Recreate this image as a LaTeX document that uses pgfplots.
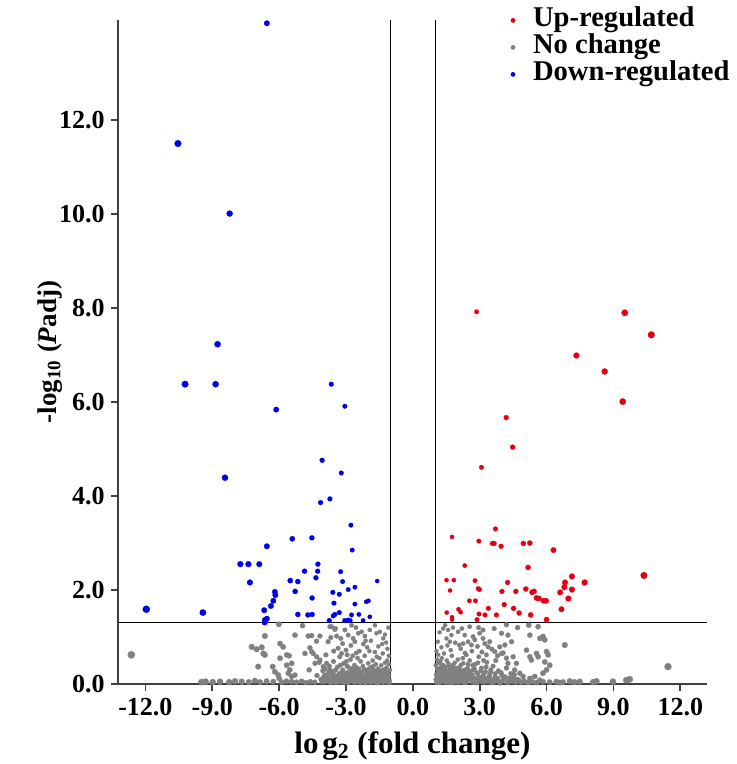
\documentclass[border=0pt]{standalone}
\usepackage{fontspec}
\setmainfont{Liberation Serif}
\usepackage{pgfplots}
\pgfplotsset{compat=1.18}
\definecolor{upred}{RGB}{228,0,18}
\definecolor{ncgray}{RGB}{128,128,128}
\definecolor{dnblue}{RGB}{0,0,230}

\pgfplotstableread{
x y
2.86 7.92
9.51 7.90
10.70 7.43
7.34 6.99
8.61 6.65
9.42 6.01
4.19 5.67
4.48 5.04
3.08 4.61
3.71 3.30
1.76 3.13
2.96 3.04
3.57 2.99
3.65 2.99
3.96 2.93
4.96 2.99
5.25 3.00
6.31 2.85
2.33 2.52
5.17 2.48
1.51 2.21
1.84 2.21
2.79 2.20
4.25 2.16
6.83 2.16
7.14 2.29
7.71 2.16
10.37 2.31
1.67 1.99
2.93 2.03
2.99 2.01
4.00 1.97
4.62 1.97
5.07 2.02
5.35 1.95
5.44 1.97
6.61 1.95
6.80 2.06
7.14 2.01
6.98 1.82
5.55 1.83
5.66 1.82
5.87 1.77
5.98 1.77
2.54 1.77
2.81 1.77
4.10 1.69
2.05 1.59
2.14 1.53
1.52 1.52
3.39 1.61
2.97 1.49
3.24 1.47
3.75 1.47
4.52 1.61
4.77 1.51
5.29 1.47
6.67 1.59
1.76 1.42
1.76 1.37
2.88 1.37
6.00 1.37
}\upreg

\pgfplotstableread{
x y
-6.55 14.06
-10.54 11.50
-8.22 10.01
-8.76 7.23
-10.22 6.38
-8.85 6.38
-3.66 6.38
-6.13 5.84
-3.05 5.91
-8.43 4.39
-4.07 4.76
-3.21 4.49
-3.72 3.94
-4.14 3.86
-2.78 3.38
-2.72 2.85
-6.55 2.93
-5.41 3.09
-4.53 3.11
-7.74 2.55
-7.38 2.55
-6.89 2.55
-7.31 2.16
-4.26 2.55
-4.27 2.40
-4.86 2.40
-4.35 2.26
-5.50 2.20
-5.16 2.18
-3.24 2.39
-3.15 2.18
-1.60 2.19
-2.60 2.06
-2.90 2.01
-3.59 1.95
-3.30 1.91
-6.19 1.96
-6.17 1.89
-5.28 1.97
-4.52 1.83
-6.26 1.77
-6.37 1.66
-6.67 1.57
-11.96 1.59
-9.42 1.52
-3.54 1.72
-2.60 1.70
-2.09 1.75
-1.99 1.77
-5.16 1.48
-4.71 1.47
-4.52 1.48
-3.57 1.45
-3.50 1.48
-3.30 1.52
-2.75 1.47
-2.42 1.48
-1.93 1.43
-3.75 1.35
-3.06 1.35
-2.91 1.36
-2.81 1.35
-2.23 1.35
-6.64 1.36
-6.55 1.39
-6.65 1.31
}\downreg

\pgfplotstableread{
x y
-12.63 0.62
-6.01 1.27
-6.64 1.02
-5.29 1.04
-4.95 1.24
-4.69 1.02
-4.54 1.03
-4.17 1.02
-3.68 0.99
-3.47 1.18
-3.72 1.22
-3.50 1.16
-3.42 1.02
-3.23 0.97
-3.05 1.15
-2.90 1.04
-2.68 0.97
-2.45 1.08
-2.30 1.11
-2.15 1.02
-1.93 1.15
-1.63 1.08
-1.48 1.11
-1.33 0.97
-4.32 0.91
-7.23 0.79
-7.01 0.74
-6.78 0.78
-6.71 0.65
-6.64 0.62
-6.94 0.37
-6.29 0.37
-6.19 0.26
-5.96 0.86
-5.82 0.79
-5.55 0.60
-5.96 0.55
-5.66 0.62
-5.44 0.44
-5.66 0.40
-5.52 0.30
-5.59 0.23
-5.44 0.16
-6.00 0.12
-6.04 0.19
-5.29 0.19
-4.65 0.30
-4.84 0.65
-4.54 0.69
-4.32 0.58
-4.17 0.51
-4.39 0.44
-4.62 0.77
-4.47 0.65
-4.02 0.37
-3.87 0.44
-3.72 0.30
-3.57 0.23
-3.95 0.19
-9.48 0.04
-9.30 0.05
-8.98 0.04
-8.65 0.05
-8.24 0.04
-7.98 0.06
-7.68 0.05
-7.36 0.04
-7.09 0.07
-6.86 0.04
-6.56 0.06
-6.26 0.05
-5.89 0.04
-5.67 0.06
-5.44 0.05
-5.22 0.04
-4.99 0.06
-4.80 0.03
-4.60 0.05
-1.05 0.02
-1.10 0.10
-1.12 0.22
-1.15 0.05
-1.18 0.35
-1.20 0.15
-1.22 0.28
-1.25 0.45
-1.28 0.08
-1.30 0.18
-1.33 0.03
-1.36 0.30
-1.40 0.12
-1.42 0.40
-1.45 0.22
-1.48 0.06
-1.50 0.55
-1.52 0.16
-1.55 0.33
-1.58 0.09
-1.60 0.25
-1.63 0.02
-1.66 0.42
-1.70 0.14
-1.72 0.28
-1.75 0.06
-1.78 0.20
-1.80 0.50
-1.84 0.11
-1.87 0.36
-1.90 0.03
-1.93 0.24
-1.96 0.16
-2.00 0.44
-2.03 0.08
-2.06 0.30
-2.10 0.19
-2.13 0.02
-2.16 0.60
-2.20 0.12
-2.24 0.38
-2.27 0.26
-2.30 0.05
-2.34 0.48
-2.38 0.17
-2.42 0.32
-2.45 0.09
-2.50 0.22
-2.54 0.66
-2.58 0.04
-2.62 0.40
-2.66 0.14
-2.70 0.28
-2.75 0.08
-2.80 0.52
-2.84 0.19
-2.88 0.35
-2.92 0.03
-2.96 0.24
-3.00 0.72
-3.05 0.12
-3.10 0.44
-3.14 0.30
-3.18 0.06
-3.22 0.20
-3.28 0.58
-3.33 0.10
-3.38 0.36
-3.44 0.16
-3.50 0.04
-3.56 0.48
-3.62 0.26
-3.68 0.08
-3.75 0.38
-3.82 0.14
-3.90 0.62
-3.96 0.05
-4.04 0.28
-4.12 0.10
-4.20 0.46
-4.30 0.18
-4.40 0.04
-1.08 0.60
-1.14 0.75
-1.20 0.88
-1.35 0.65
-1.55 0.80
-1.70 0.68
-1.88 0.92
-2.05 0.78
-2.22 0.85
-2.40 0.70
-2.60 0.90
-2.78 0.82
-2.95 0.62
-3.15 0.86
-3.35 0.76
-3.55 0.70
-3.80 0.90
-1.10 1.20
-1.25 1.05
-2.55 1.20
-2.75 1.25
-3.65 1.22
-1.70 1.25
-1.15 0.50
-1.38 0.85
-1.62 0.58
-1.95 0.70
-2.12 0.92
-2.48 0.55
-2.70 0.60
-2.98 0.48
-3.20 0.65
-1.02 0.30
-1.07 0.42
-1.17 0.12
-1.32 0.24
-1.53 0.04
-1.77 0.38
-2.18 0.07
-2.57 0.30
-2.86 0.10
-3.25 0.40
-1.03 0.07
-1.06 0.18
-1.09 0.26
-1.13 0.04
-1.16 0.14
-1.19 0.24
-1.23 0.09
-1.26 0.19
-1.29 0.31
-1.31 0.12
-1.34 0.06
-1.37 0.20
-1.39 0.27
-1.43 0.05
-1.46 0.14
-1.49 0.26
-1.51 0.09
-1.54 0.19
-1.57 0.02
-1.61 0.13
-1.64 0.29
-1.67 0.08
-1.69 0.21
-1.73 0.04
-1.76 0.16
-1.79 0.30
-1.82 0.07
-1.86 0.22
-1.89 0.13
-1.92 0.05
-1.95 0.33
-1.99 0.18
-2.02 0.10
-2.07 0.24
-2.11 0.05
-2.15 0.15
-2.19 0.32
-2.23 0.09
-2.28 0.20
-2.32 0.12
-2.36 0.03
-2.40 0.25
-2.44 0.15
-2.48 0.06
-2.52 0.35
-2.56 0.12
-2.61 0.21
-2.65 0.04
-2.69 0.17
-2.73 0.33
-2.78 0.10
-2.83 0.25
-2.87 0.05
-2.91 0.14
-2.95 0.38
-3.00 0.08
-3.04 0.20
-3.09 0.03
-3.13 0.16
-3.17 0.28
-3.21 0.10
-3.26 0.05
-3.31 0.22
-3.36 0.13
-3.41 0.04
-3.46 0.30
-3.52 0.12
-3.58 0.06
-3.64 0.18
-3.70 0.03
-3.78 0.24
-3.86 0.08
-3.94 0.32
-4.00 0.14
-4.08 0.05
1.36 1.18
1.58 1.15
1.73 1.04
1.51 0.97
1.66 0.90
2.03 1.11
2.33 1.04
2.26 0.86
2.08 0.83
2.48 0.90
2.63 0.83
2.70 1.01
2.78 0.94
3.00 1.08
3.15 1.15
3.15 0.97
3.23 0.86
3.45 0.90
3.38 0.79
3.98 1.08
4.20 1.26
4.27 1.04
4.43 0.90
4.13 0.83
3.90 0.79
3.68 0.69
3.98 0.65
4.20 0.55
4.50 0.58
4.65 0.44
4.27 0.44
5.10 0.72
5.25 0.58
5.32 0.51
5.55 0.65
5.62 0.58
5.25 1.04
5.62 1.22
5.70 0.97
5.84 1.01
5.92 0.94
6.00 0.69
6.07 0.62
5.92 0.47
6.14 0.40
6.00 0.30
5.84 0.23
6.82 0.83
4.57 0.30
4.80 0.23
4.95 0.16
5.25 0.12
5.47 0.16
11.45 0.37
5.84 0.05
6.14 0.04
6.44 0.05
6.74 0.04
7.04 0.06
7.25 0.04
7.49 0.05
8.09 0.04
8.24 0.06
8.98 0.05
9.58 0.08
9.73 0.10
6.60 0.03
1.05 0.03
1.08 0.15
1.10 0.30
1.12 0.08
1.15 0.45
1.18 0.20
1.20 0.02
1.23 0.35
1.26 0.12
1.30 0.55
1.32 0.25
1.35 0.05
1.38 0.40
1.42 0.16
1.45 0.30
1.48 0.03
1.52 0.50
1.55 0.10
1.58 0.22
1.62 0.38
1.65 0.06
1.68 0.28
1.72 0.14
1.75 0.60
1.78 0.02
1.82 0.33
1.85 0.19
1.88 0.45
1.92 0.08
1.95 0.26
1.98 0.12
2.02 0.52
2.06 0.04
2.10 0.36
2.14 0.18
2.18 0.28
2.22 0.07
2.26 0.44
2.30 0.15
2.34 0.66
2.38 0.03
2.42 0.24
2.46 0.34
2.50 0.10
2.55 0.50
2.60 0.18
2.65 0.05
2.70 0.30
2.75 0.13
2.80 0.42
2.85 0.02
2.90 0.22
2.96 0.58
3.02 0.09
3.08 0.34
3.14 0.16
3.20 0.04
3.26 0.26
3.32 0.46
3.38 0.11
3.45 0.20
3.52 0.03
3.60 0.38
3.68 0.14
3.76 0.07
3.84 0.28
3.92 0.02
4.00 0.18
4.10 0.10
4.20 0.34
4.30 0.05
4.40 0.22
4.50 0.12
4.62 0.04
4.75 0.08
1.06 0.70
1.12 0.90
1.20 1.10
1.28 0.78
1.40 0.65
1.55 0.82
1.70 0.72
1.90 0.88
2.15 0.75
2.40 0.62
2.65 0.70
2.90 0.80
3.10 0.68
3.30 0.62
3.55 0.74
3.80 0.60
4.05 0.66
1.45 1.25
1.80 1.20
2.20 1.18
2.55 1.22
2.95 1.20
3.65 1.18
4.70 1.20
5.20 1.25
1.03 0.40
1.09 0.52
1.14 0.62
1.24 0.48
1.34 0.15
1.44 0.08
1.60 0.44
1.80 0.10
2.00 0.22
2.24 0.55
2.44 0.14
2.68 0.40
2.92 0.45
3.18 0.50
3.50 0.30
3.72 0.50
1.02 0.10
1.04 0.20
1.07 0.06
1.09 0.33
1.11 0.14
1.13 0.24
1.16 0.04
1.19 0.10
1.21 0.28
1.24 0.18
1.27 0.05
1.29 0.40
1.31 0.12
1.33 0.32
1.36 0.20
1.39 0.08
1.41 0.26
1.44 0.12
1.47 0.36
1.50 0.18
1.53 0.06
1.56 0.28
1.59 0.14
1.61 0.03
1.64 0.20
1.67 0.34
1.70 0.09
1.73 0.22
1.76 0.12
1.79 0.40
1.83 0.05
1.86 0.27
1.89 0.15
1.93 0.34
1.96 0.04
1.99 0.20
2.03 0.11
2.07 0.28
2.11 0.06
2.15 0.40
2.19 0.14
2.23 0.22
2.27 0.03
2.31 0.30
2.35 0.12
2.39 0.20
2.43 0.06
2.47 0.42
2.52 0.16
2.57 0.27
2.62 0.09
2.67 0.20
2.72 0.04
2.77 0.32
2.82 0.12
2.87 0.24
2.93 0.06
2.99 0.15
3.05 0.28
3.11 0.05
3.17 0.20
3.23 0.12
3.29 0.36
3.35 0.06
3.42 0.16
3.49 0.25
3.56 0.09
3.63 0.04
3.70 0.22
3.80 0.12
3.88 0.05
3.96 0.24
4.05 0.08
4.15 0.15
4.25 0.03
4.35 0.12
4.45 0.06
4.55 0.20
4.68 0.10
4.85 0.04
5.00 0.06
5.15 0.03
5.35 0.05
5.55 0.03
5.70 0.08
}\nochange

\begin{document}
\begin{tikzpicture}
\useasboundingbox (-59pt,-40pt) rectangle (309pt,342pt);
\begin{axis}[
  scale only axis, width=294.5pt, height=332pt,
  xmin=-13.23, xmax=13.2, ymin=0, ymax=14.13,
  clip=false,
  axis x line*=bottom, axis y line*=left,
  axis line style={line width=0.9pt, black!75},
  tick align=outside, major tick length=3.5pt,
  every tick/.style={line width=0.9pt, black!75},
  xtick={-12,-9,...,12}, ytick={0,2,...,12},
  /pgf/number format/assume math mode=true,
  xticklabel={\pgfmathprintnumber[fixed,fixed zerofill,precision=1]{\tick}},
  yticklabel={\pgfmathprintnumber[fixed,fixed zerofill,precision=1]{\tick}},
  tick label style={font=\fontsize{13}{15}\selectfont\bfseries},
  yticklabel style={inner xsep=3pt},
  xlabel={lo\hspace{0.12em}g\textsubscript{2} (fold change)},
  ylabel={-log\textsubscript{10} (\textit{P}adj)},
  every axis x label/.style={at={(axis description cs:0.5,0)}, yshift=-34.8pt, anchor=base, font=\fontsize{15.5}{18}\selectfont\bfseries},
  every axis y label/.style={at={(axis description cs:-0.105,0.5)}, rotate=90, anchor=base, font=\fontsize{13.5}{16}\selectfont\bfseries},
  legend cell align=left,
  legend style={at={(0.6666,1.0185)}, anchor=north west, draw=none, fill=none,
    inner sep=0pt, outer sep=0pt, row sep=0.8pt, column sep=8.8pt,
    font=\fontsize{14.3}{16}\selectfont\bfseries,
    nodes={inner sep=0pt, text height=9.5pt, text depth=3.2pt}},
]
\addplot[scatter, only marks, mark=*,
  scatter/use mapped color={draw=upred, fill=upred},
  mark options={line width=0.1pt},
  visualization depends on={0.95+0.07*abs(\thisrow{x}) \as \ms},
  scatter/@pre marker code/.append style={/tikz/mark size=\ms},
  legend image code/.code={\fill[upred, draw=none] (0pt,0pt) circle (1.2pt);}
] table[x=x,y=y] {\upreg};
\addlegendentry{Up-regulated}
\addplot[scatter, only marks, mark=*,
  scatter/use mapped color={draw=ncgray, fill=ncgray},
  mark options={line width=0.1pt},
  visualization depends on={0.95+0.07*abs(\thisrow{x}) \as \ms},
  scatter/@pre marker code/.append style={/tikz/mark size=\ms},
  legend image code/.code={\fill[ncgray, draw=none] (0pt,0pt) circle (1.2pt);}
] table[x=x,y=y] {\nochange};
\addlegendentry{No change}
\addplot[scatter, only marks, mark=*,
  scatter/use mapped color={draw=dnblue, fill=dnblue},
  mark options={line width=0.1pt},
  visualization depends on={0.95+0.07*abs(\thisrow{x}) \as \ms},
  scatter/@pre marker code/.append style={/tikz/mark size=\ms},
  legend image code/.code={\fill[dnblue, draw=none] (0pt,0pt) circle (1.2pt);}
] table[x=x,y=y] {\downreg};
\addlegendentry{Down-regulated}
\addplot[black, line width=0.5pt, forget plot] coordinates {(-1,0) (-1,14.13)};
\addplot[black, line width=0.5pt, forget plot] coordinates {(1,0) (1,14.13)};
\addplot[black, line width=0.5pt, forget plot] coordinates {(-13.23,1.3) (13.2,1.3)};
\end{axis}
\end{tikzpicture}
\end{document}
